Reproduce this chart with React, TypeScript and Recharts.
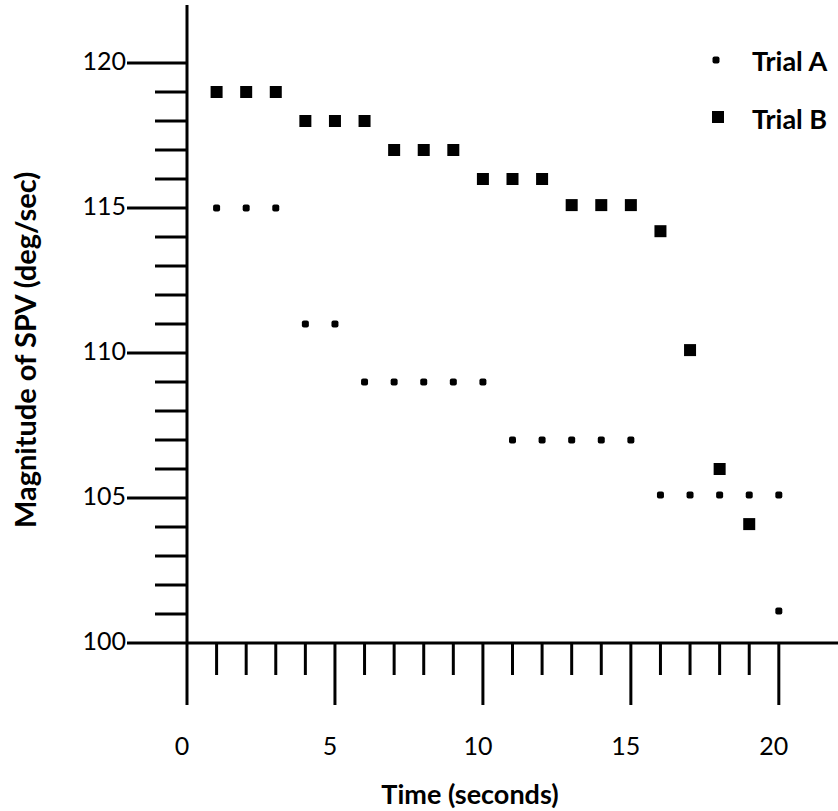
import { Label, Legend, Scatter, ScatterChart, XAxis, YAxis } from "recharts"

const timeA = [1, 2, 3, 4, 5, 6, 7, 8, 9, 10, 11, 12, 13, 14, 15, 16, 17, 18, 19, 20, 20]
const spvA = [115, 115, 115, 111, 111, 109, 109, 109, 109, 109, 107, 107, 107, 107, 107, 105.1, 105.1, 105.1, 105.1, 105.1, 101.1]

const timeB = [1, 2, 3, 4, 5, 6, 7, 8, 9, 10, 11, 12, 13, 14, 15, 16, 17, 18, 19]
const spvB = [119, 119, 119, 118, 118, 118, 117, 117, 117, 116, 116, 116, 115.1, 115.1, 115.1, 114.2, 110.1, 106, 104.1]

const xTicks = [0, 1, 2, 3, 4, 5, 6, 7, 8, 9, 10, 11, 12, 13, 14, 15, 16, 17, 18, 19, 20]
const yTicks = [100, 101, 102, 103, 104, 105, 106, 107, 108, 109, 110, 111, 112, 113, 114, 115, 116, 117, 118, 119, 120]

const trialA = timeA.map((t, i) => ({ t, v: spvA[i] }))
const trialB = timeB.map((t, i) => ({ t, v: spvB[i] }))

const FONT = "Lato, 'Noto Sans', sans-serif"

function XTick({ x, y, payload }: any) {
  const major = payload.value % 5 === 0
  return (
    <g>
      <line x1={x} y1={y} x2={x} y2={y + (major ? 62 : 32)} stroke="#000" strokeWidth={3} />
      {major && (
        <text x={x - 5} y={y + 102} textAnchor="middle" dominantBaseline="central" fontSize={25} fontFamily={FONT} fill="#000">
          {payload.value}
        </text>
      )}
    </g>
  )
}

function YTick({ x, y, payload }: any) {
  const major = payload.value % 5 === 0
  return (
    <g>
      <line x1={x} y1={y} x2={x - (major ? 60 : 32)} y2={y} stroke="#000" strokeWidth={3} />
      {major && (
        <text x={x - 61} y={y - 3} textAnchor="end" dominantBaseline="central" fontSize={25} fontFamily={FONT} fill="#000">
          {payload.value}
        </text>
      )}
    </g>
  )
}

const dotA = ({ cx, cy }: any) => <rect x={cx - 3.5} y={cy - 3.5} width={7} height={7} rx={2} fill="#000" />
const squareB = ({ cx, cy }: any) => <rect x={cx - 6} y={cy - 6} width={12} height={12} fill="#000" />

function LegendBox() {
  return (
    <svg width={150} height={100}>
      <rect x={12.5} y={21.5} width={7} height={7} rx={2} fill="#000" />
      <text x={52} y={25} dominantBaseline="central" fontSize={27} fontWeight={700} fontFamily={FONT} fill="#000">
        Trial A
      </text>
      <rect x={12} y={76} width={12} height={12} fill="#000" />
      <text x={52} y={83} dominantBaseline="central" fontSize={27} fontWeight={700} fontFamily={FONT} fill="#000">
        Trial B
      </text>
    </svg>
  )
}

export default function App() {
  return (
    <div style={{ position: "absolute", left: 0, top: 0, background: "#fff" }}>
      <ScatterChart width={838} height={811} margin={{ top: 5, right: 0, bottom: 8, left: 0 }}>
        <XAxis
          type="number"
          dataKey="t"
          domain={[0, 22]}
          ticks={xTicks}
          interval={0}
          height={160}
          tickSize={0}
          tickMargin={0}
          tickLine={false}
          tick={<XTick />}
          axisLine={{ stroke: "#000", strokeWidth: 3 }}
        >
          <Label
            content={() => (
              <text x={470} y={793} textAnchor="middle" dominantBaseline="central" fontSize={27} fontWeight={700} fontFamily={FONT} fill="#000">
                Time (seconds)
              </text>
            )}
          />
        </XAxis>
        <YAxis
          type="number"
          dataKey="v"
          domain={[100, 122]}
          ticks={yTicks}
          interval={0}
          width={187}
          tickSize={0}
          tickMargin={0}
          tickLine={false}
          tick={<YTick />}
          axisLine={{ stroke: "#000", strokeWidth: 3 }}
        >
          <Label
            content={() => (
              <text
                x={24}
                y={350}
                transform="rotate(-90 24 350)"
                textAnchor="middle"
                dominantBaseline="central"
                fontSize={29}
                fontWeight={700}
                fontFamily={FONT}
                fill="#000"
              >
                Magnitude of SPV (deg/sec)
              </text>
            )}
          />
        </YAxis>
        <Legend
          layout="vertical"
          align="center"
          verticalAlign="middle"
          wrapperStyle={{ left: 700, top: 35, width: 150 }}
          content={() => <LegendBox />}
        />
        <Scatter name="Trial A" data={trialA} shape={dotA} isAnimationActive={false} />
        <Scatter name="Trial B" data={trialB} shape={squareB} isAnimationActive={false} />
      </ScatterChart>
    </div>
  )
}
